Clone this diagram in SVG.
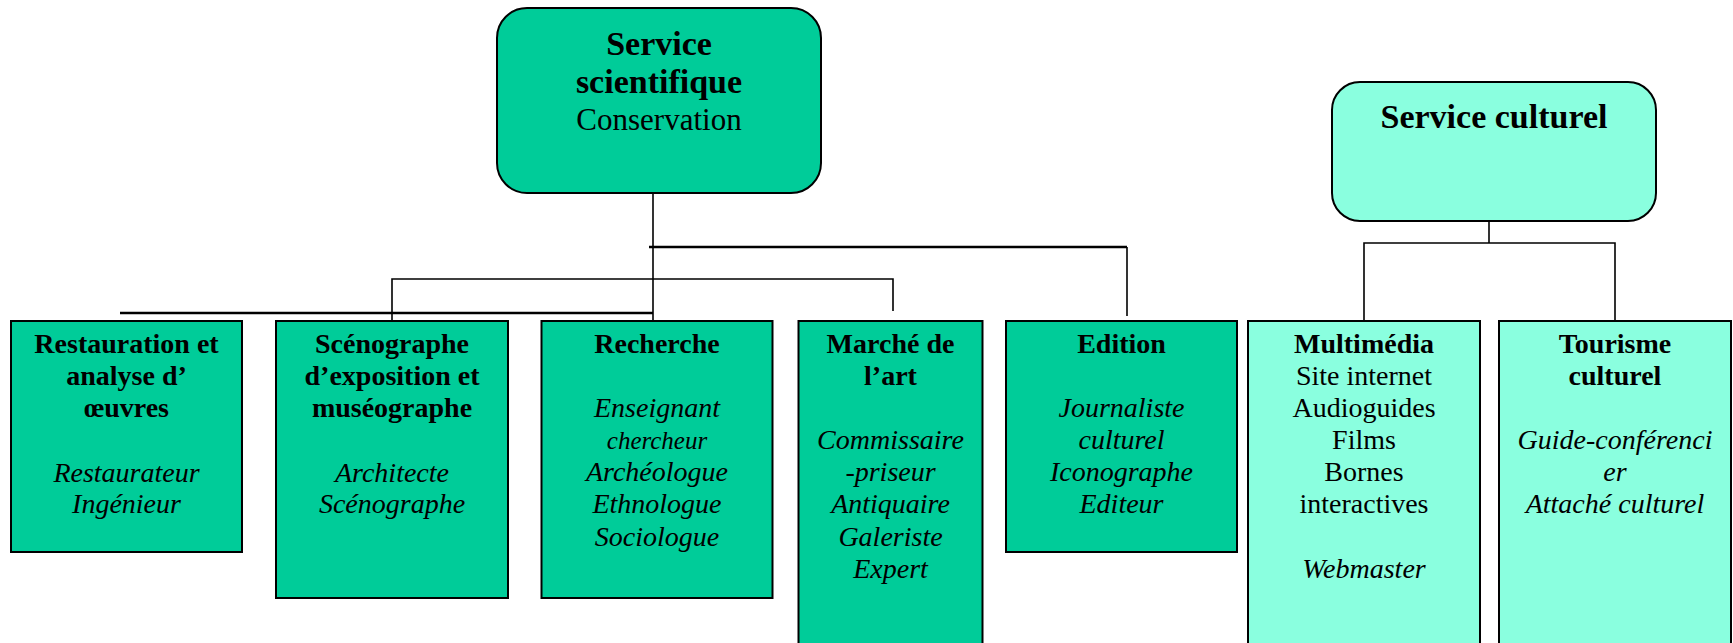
<svg xmlns="http://www.w3.org/2000/svg" width="1733" height="643" viewBox="0 0 1733 643">
<style>
.dk{fill:#00CC99;stroke:#000;stroke-width:2}
.lt{fill:#8AFFDF;stroke:#000;stroke-width:2}
text{font-family:"Liberation Serif","Times New Roman",serif;fill:#000;text-anchor:middle}
.h{font-size:34px;font-weight:bold}
.hr{font-size:31px}
.b{font-size:28px;font-weight:bold}
.r{font-size:28px}
.i{font-size:28px;font-style:italic}
.is{font-size:25px;font-style:italic}
.c{fill:none;stroke:#000;stroke-width:1.6}
.c3{fill:none;stroke:#000;stroke-width:2.4}
</style>
<rect width="1733" height="643" fill="#fff"/>
<g id="connectors">
<path class="c" d="M653 186V320"/>
<path class="c3" d="M649 247H1127"/>
<path class="c" d="M1127 247V316"/>
<path class="c" d="M392 321V279H893V311"/>
<path class="c3" d="M120 313H653"/>
<path class="c" d="M1489 219V243"/>
<path class="c" d="M1364 320V243H1615V320"/>
</g>
<g id="service-scientifique">
<rect class="dk" x="497" y="8" width="324" height="185" rx="30"/>
<text class="h" x="659" y="55">Service</text>
<text class="h" x="659" y="93">scientifique</text>
<text class="hr" x="659" y="130">Conservation</text>
</g>
<g id="service-culturel">
<rect class="lt" x="1332" y="82" width="324" height="139" rx="28"/>
<text class="h" x="1494" y="128">Service culturel</text>
</g>
<g id="restauration">
<rect class="dk" x="11" y="321" width="231" height="231"/>
<text class="b" x="126.5" y="353">Restauration et</text>
<text class="b" x="126.5" y="385">analyse d’</text>
<text class="b" x="126.5" y="417">œuvres</text>
<text class="i" x="126.5" y="482">Restaurateur</text>
<text class="i" x="126.5" y="513">Ingénieur</text>
</g>
<g id="scenographe">
<rect class="dk" x="276" y="321" width="232" height="277"/>
<text class="b" x="392" y="353">Scénographe</text>
<text class="b" x="392" y="385">d’exposition et</text>
<text class="b" x="392" y="417">muséographe</text>
<text class="i" x="392" y="482">Architecte</text>
<text class="i" x="392" y="513">Scénographe</text>
</g>
<g id="recherche">
<rect class="dk" x="541.5" y="321" width="231" height="277"/>
<text class="b" x="657" y="353">Recherche</text>
<text class="i" x="657" y="417">Enseignant</text>
<text class="is" x="657" y="449">chercheur</text>
<text class="i" x="657" y="481">Archéologue</text>
<text class="i" x="657" y="513">Ethnologue</text>
<text class="i" x="657" y="546">Sociologue</text>
</g>
<g id="marche">
<rect class="dk" x="798.5" y="321" width="184" height="340"/>
<text class="b" x="890.5" y="353">Marché de</text>
<text class="b" x="890.5" y="385">l’art</text>
<text class="i" x="890.5" y="449">Commissaire</text>
<text class="i" x="890.5" y="481">-priseur</text>
<text class="i" x="890.5" y="513">Antiquaire</text>
<text class="i" x="890.5" y="546">Galeriste</text>
<text class="i" x="890.5" y="578">Expert</text>
</g>
<g id="edition">
<rect class="dk" x="1006" y="321" width="231" height="231"/>
<text class="b" x="1121.5" y="353">Edition</text>
<text class="i" x="1121.5" y="417">Journaliste</text>
<text class="i" x="1121.5" y="449">culturel</text>
<text class="i" x="1121.5" y="481">Iconographe</text>
<text class="i" x="1121.5" y="513">Editeur</text>
</g>
<g id="multimedia">
<rect class="lt" x="1248" y="321" width="232" height="340"/>
<text class="b" x="1364" y="353">Multimédia</text>
<text class="r" x="1364" y="385">Site internet</text>
<text class="r" x="1364" y="417">Audioguides</text>
<text class="r" x="1364" y="449">Films</text>
<text class="r" x="1364" y="481">Bornes</text>
<text class="r" x="1364" y="513">interactives</text>
<text class="i" x="1364" y="578">Webmaster</text>
</g>
<g id="tourisme">
<rect class="lt" x="1499" y="321" width="232" height="340"/>
<text class="b" x="1615" y="353">Tourisme</text>
<text class="b" x="1615" y="385">culturel</text>
<text class="i" x="1615" y="449">Guide-conférenci</text>
<text class="i" x="1615" y="481">er</text>
<text class="i" x="1615" y="513">Attaché culturel</text>
</g>
</svg>
